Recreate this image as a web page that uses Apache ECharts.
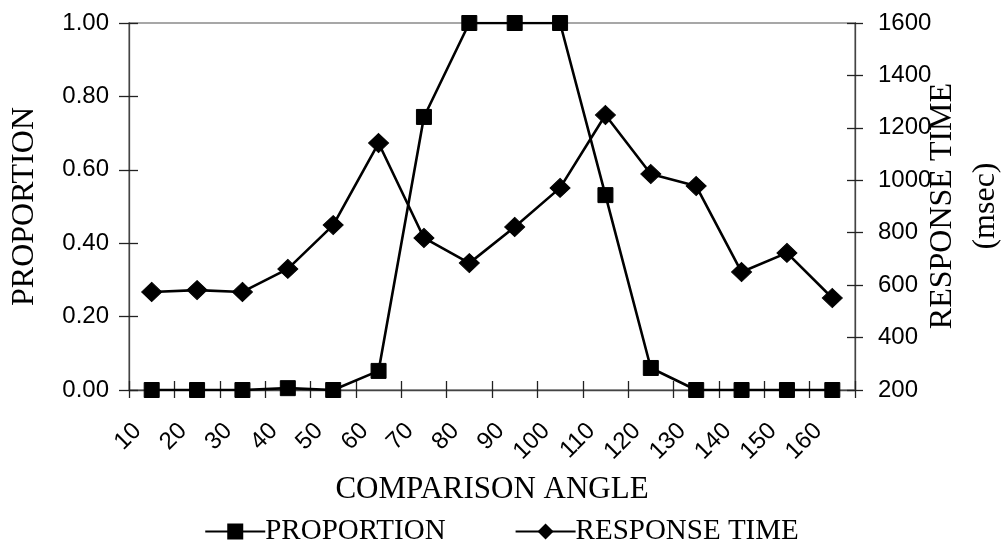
<!DOCTYPE html>
<html>
<head>
<meta charset="utf-8">
<script src="https://cdn.jsdelivr.net/npm/echarts@6/dist/echarts.min.js"></script>
<style>
html,body{margin:0;padding:0;background:#fff;}
#chart{width:1003px;height:549px;}
</style>
</head>
<body>
<div id="chart"></div>
<script>
const categories = ['10','20','30','40','50','60','70','80','90','100','110','120','130','140','150','160'];
const proportion = [0, 0, 0, 0.005, 0, 0.052, 0.744, 1, 1, 1, 0.531, 0.06, 0, 0, 0, 0];
const responseTime = [574, 581, 574, 662, 829, 1142, 780, 684, 822, 971, 1249, 1024, 978, 650, 723, 551];
const leftTicks = {min: 0, max: 1, interval: 0.2};
const rightTicks = {min: 200, max: 1600, interval: 200};
const rightTitleLines = ['RESPONSE TIME', '(msec)'];

const sans = "'Liberation Sans', Arial, sans-serif";
const serif = "'Liberation Serif', 'Times New Roman', serif";

const chart = echarts.init(document.getElementById('chart'), null, {renderer: 'canvas'});

const axisLineStyle = {color: '#444', width: 1.3};
const tickStyle = {color: '#222', width: 1.3};

chart.setOption({
  animation: false,
  backgroundColor: '#fff',
  grid: {left: 129, right: 148, top: 23, bottom: 159, containLabel: false, outerBoundsMode: 'none',
         show: true, borderColor: '#8a8a8a', borderWidth: 1.5, backgroundColor: 'transparent'},
  legend: {
    top: 512, left: 'center',
    itemWidth: 60, itemHeight: 20, itemGap: 69,
    textStyle: {fontFamily: serif, fontSize: 29, color: '#000', padding: [0,0,0,-5]},
    data: ['PROPORTION', 'RESPONSE TIME']
  },
  graphic: rightTitleLines.map((t, i) => ({
    type: 'text', x: 943 + i * 43, y: 206, rotation: Math.PI / 2,
    style: {text: t, fontFamily: serif, fontSize: 32, fill: '#000', align: 'center', verticalAlign: 'middle'}
  })),
  xAxis: [{
    type: 'category', data: categories, boundaryGap: true,
    name: 'COMPARISON ANGLE', nameLocation: 'middle', nameGap: 84,
    nameTextStyle: {fontFamily: serif, fontSize: 31, color: '#000'},
    axisLine: {lineStyle: axisLineStyle},
    axisTick: {show: true, inside: false, length: 8, lineStyle: tickStyle, alignWithLabel: false},
    axisLabel: {interval: 0, rotate: 45, margin: 23, padding: [0, 20, 0, 0], fontFamily: sans, fontSize: 24, color: '#000'},
    splitLine: {show: false}
  }, {
    type: 'category', data: categories, boundaryGap: true, position: 'bottom',
    axisLine: {show: false},
    axisTick: {show: true, inside: true, length: 9, lineStyle: tickStyle},
    axisLabel: {show: false}, splitLine: {show: false}
  }],
  yAxis: [{
    type: 'value', position: 'left', min: leftTicks.min, max: leftTicks.max, interval: leftTicks.interval,
    name: 'PROPORTION', nameLocation: 'middle', nameGap: 88, nameRotate: 90,
    nameTextStyle: {fontFamily: serif, fontSize: 32, color: '#000'},
    axisLine: {show: true, lineStyle: axisLineStyle},
    axisTick: {show: true, inside: false, length: 10, lineStyle: tickStyle},
    axisLabel: {margin: 20, fontFamily: sans, fontSize: 24, color: '#000', formatter: v => v.toFixed(2)},
    splitLine: {show: false}
  }, {
    type: 'value', position: 'right', min: rightTicks.min, max: rightTicks.max, interval: rightTicks.interval,
    axisLine: {show: true, lineStyle: axisLineStyle},
    axisTick: {show: true, inside: false, length: 8, lineStyle: tickStyle},
    axisLabel: {margin: 23, fontFamily: sans, fontSize: 24, color: '#000', formatter: v => String(v)},
    splitLine: {show: false}
  }, {
    type: 'value', position: 'left', min: leftTicks.min, max: leftTicks.max, interval: leftTicks.interval,
    axisLine: {show: false}, axisLabel: {show: false}, splitLine: {show: false},
    axisTick: {show: true, inside: true, length: 9, lineStyle: tickStyle}
  }, {
    type: 'value', position: 'right', min: rightTicks.min, max: rightTicks.max, interval: rightTicks.interval,
    axisLine: {show: false}, axisLabel: {show: false}, splitLine: {show: false},
    axisTick: {show: true, inside: true, length: 8, lineStyle: tickStyle}
  }],
  series: [{
    name: 'RESPONSE TIME', type: 'line', yAxisIndex: 1, data: responseTime,
    symbol: 'diamond', symbolSize: [20, 19],
    lineStyle: {color: '#000', width: 2.6},
    itemStyle: {color: '#000', borderColor: '#000'}
  }, {
    name: 'PROPORTION', type: 'line', yAxisIndex: 0, data: proportion,
    symbol: 'rect', symbolSize: 15,
    lineStyle: {color: '#000', width: 2.6},
    itemStyle: {color: '#000', borderColor: '#000'}
  }]
});
</script>
</body>
</html>
